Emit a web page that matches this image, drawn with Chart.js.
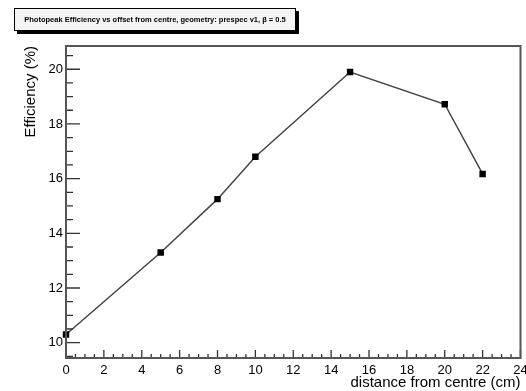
<!DOCTYPE html>
<html>
<head>
<meta charset="utf-8">
<script src="https://cdn.jsdelivr.net/npm/chart.js@4.4.1/dist/chart.umd.min.js"></script>
<style>
  body { margin: 0; background: #fff; }
  #wrap { position: relative; width: 526px; height: 391px; }
  #title {
    position: absolute; left: 14px; top: 8px; width: 280px; height: 21px;
    border: 1px solid #000; background: #f4f4f4;
    box-shadow: 3px 3px 0 #000;
    font: bold 7.5px "Liberation Sans", Arial, sans-serif;
    line-height: 21px; text-align: center; color: #000;
    white-space: nowrap;
  }
</style>
</head>
<body>
<div id="wrap">
  <div id="title">Photopeak Efficiency vs offset from centre, geometry: prespec v1, β = 0.5</div>
  <canvas id="chart" width="526" height="391"></canvas>
</div>
<script>
const distance = [0, 5, 8, 10, 15, 20, 22];
const efficiency = [10.3, 13.3, 15.25, 16.8, 19.9, 18.72, 16.17];
const xTickLabels = [0, 2, 4, 6, 8, 10, 12, 14, 16, 18, 20, 22, 24];
const yTickLabels = [10, 12, 14, 16, 18, 20];

const tickFont = { family: '"Liberation Sans", Arial, sans-serif', size: 13 };
const titleFont = { family: '"Liberation Sans", Arial, sans-serif', size: 15 };

// ROOT style: ticks point into the frame, with minor ticks every 0.5
const innerTicks = {
    id: 'innerTicks',
    afterDraw(chart) {
        const ctx = chart.ctx;
        const area = chart.chartArea;
        const x = chart.scales.x, y = chart.scales.y;
        ctx.save();
        ctx.strokeStyle = '#333';
        ctx.lineWidth = 1.3;
        ctx.beginPath();
        for (let v = Math.ceil(x.min / 0.5) * 0.5; v <= x.max; v += 0.5) {
            const px = x.getPixelForValue(v);
            const len = v % 2 === 0 ? 8 : 4;
            ctx.moveTo(px, area.bottom);
            ctx.lineTo(px, area.bottom - len);
        }
        for (let v = Math.ceil(y.min / 0.5) * 0.5; v <= y.max; v += 0.5) {
            const py = y.getPixelForValue(v);
            const len = v % 2 === 0 ? 14 : 7;
            ctx.moveTo(area.left, py);
            ctx.lineTo(area.left + len, py);
        }
        ctx.stroke();
        ctx.strokeStyle = '#555';
        ctx.lineWidth = 2;
        ctx.strokeRect(area.left, area.top, area.right - area.left, area.bottom - area.top);
        ctx.restore();
    }
};

new Chart(document.getElementById('chart'), {
    type: 'line',
    data: {
        datasets: [{
            data: distance.map((d, i) => ({ x: d, y: efficiency[i] })),
            borderColor: '#444',
            borderWidth: 1.5,
            pointStyle: 'rect',
            pointRadius: 3.5,
            pointBackgroundColor: '#000',
            pointBorderColor: '#000',
            tension: 0,
            clip: false
        }]
    },
    options: {
        responsive: false,
        animation: false,
        layout: { padding: { top: 46, right: 3, left: 0, bottom: 0 } },
        plugins: { legend: { display: false }, tooltip: { enabled: false } },
        scales: {
            x: {
                type: 'linear',
                min: 0,
                max: 24,
                afterBuildTicks: (scale) => { scale.ticks = xTickLabels.map(v => ({ value: v })); },
                afterFit: (scale) => { scale.height = 33; scale.paddingLeft = 0; scale.paddingRight = 0; },
                grid: { display: false, drawTicks: false },
                border: { display: false },
                ticks: { font: tickFont, color: '#000', padding: 5, maxRotation: 0, autoSkip: false },
                title: {
                    display: true, text: 'distance from centre (cm)', align: 'end',
                    font: titleFont, color: '#000', padding: { top: 0, bottom: -1 }
                }
            },
            y: {
                min: 9.44,
                max: 20.85,
                afterBuildTicks: (scale) => { scale.ticks = yTickLabels.map(v => ({ value: v })); },
                afterFit: (scale) => { scale.width = 66; },
                grid: { display: false, drawTicks: false },
                border: { display: false },
                ticks: { font: tickFont, color: '#000', padding: 3 },
                title: {
                    display: true, text: 'Efficiency (%)', align: 'end',
                    font: titleFont, color: '#000', padding: { top: 22, bottom: 0 }
                }
            }
        }
    },
    plugins: [innerTicks]
});
</script>
</body>
</html>
